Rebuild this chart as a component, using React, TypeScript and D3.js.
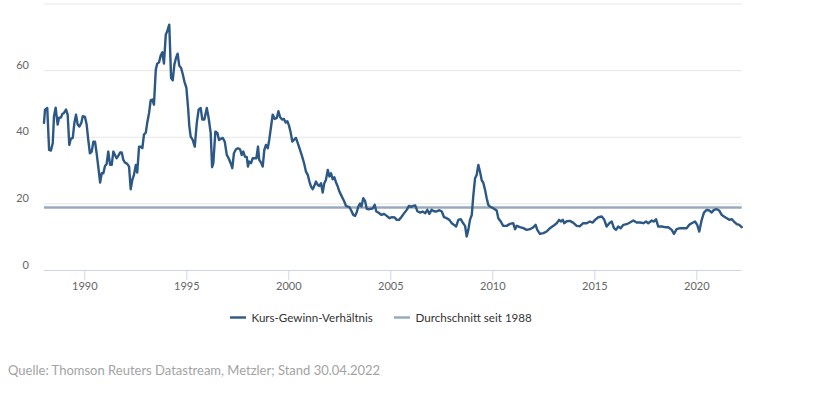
import React, { useEffect } from 'react';
import * as d3 from 'd3';

const dates = [
  1988.00, 1988.05, 1988.16, 1988.25, 1988.34, 1988.43, 1988.49, 1988.57, 1988.67, 1988.74, 1988.83, 1988.90, 1988.98,
  1989.08, 1989.16, 1989.24, 1989.31, 1989.41, 1989.49, 1989.57, 1989.65, 1989.73, 1989.83, 1989.90,
  1990.01, 1990.09, 1990.17, 1990.25, 1990.34, 1990.42, 1990.50, 1990.58, 1990.66, 1990.75, 1990.83, 1990.91, 1990.99,
  1991.07, 1991.15, 1991.24, 1991.32, 1991.40, 1991.48, 1991.56, 1991.64, 1991.73, 1991.81, 1991.89, 1991.97,
  1992.08, 1992.17, 1992.25, 1992.33, 1992.41, 1992.50, 1992.57, 1992.66, 1992.74, 1992.82, 1992.90, 1992.99,
  1993.06, 1993.15, 1993.23, 1993.31, 1993.39, 1993.48, 1993.55, 1993.64, 1993.72, 1993.80, 1993.88, 1993.97,
  1994.04, 1994.14, 1994.23, 1994.31, 1994.39, 1994.47, 1994.55, 1994.63, 1994.72, 1994.80, 1994.88, 1994.98,
  1995.07, 1995.12, 1995.19, 1995.29, 1995.39, 1995.49, 1995.58, 1995.68, 1995.76, 1995.86, 1995.98,
  1996.07, 1996.17, 1996.24, 1996.30, 1996.40, 1996.50, 1996.58, 1996.66, 1996.76, 1996.86, 1996.96,
  1997.05, 1997.15, 1997.23, 1997.31, 1997.41, 1997.51, 1997.61, 1997.69, 1997.77, 1997.85, 1997.94,
  1998.00, 1998.06, 1998.15, 1998.23, 1998.33, 1998.41, 1998.49, 1998.55, 1998.64, 1998.72, 1998.80, 1998.88, 1998.97,
  1999.04, 1999.13, 1999.21, 1999.31, 1999.41, 1999.49, 1999.57, 1999.67, 1999.76, 1999.85, 1999.93,
  2000.01, 2000.09, 2000.17, 2000.25, 2000.35, 2000.47, 2000.55, 2000.63, 2000.75, 2000.84, 2000.93,
  2001.01, 2001.09, 2001.17, 2001.25, 2001.33, 2001.42, 2001.50, 2001.58, 2001.66, 2001.74, 2001.82, 2001.91, 2001.99,
  2002.07, 2002.15, 2002.23, 2002.31, 2002.40, 2002.48, 2002.56, 2002.64, 2002.72, 2002.80, 2002.89, 2002.97,
  2003.06, 2003.16, 2003.25, 2003.33, 2003.41, 2003.49, 2003.56, 2003.65, 2003.74, 2003.82, 2003.92,
  2004.01, 2004.11, 2004.21, 2004.29, 2004.39, 2004.47, 2004.55, 2004.67, 2004.80, 2004.93,
  2005.06, 2005.19, 2005.29, 2005.40, 2005.51, 2005.63, 2005.78, 2005.89,
  2006.00, 2006.10, 2006.20, 2006.30, 2006.43, 2006.56, 2006.69, 2006.79, 2006.89,
  2007.00, 2007.12, 2007.24, 2007.38, 2007.50, 2007.61, 2007.74, 2007.87, 2007.99,
  2008.10, 2008.20, 2008.31, 2008.43, 2008.52, 2008.64, 2008.72, 2008.80, 2008.88, 2008.97,
  2009.04, 2009.13, 2009.21, 2009.29, 2009.37, 2009.46, 2009.53, 2009.62, 2009.70, 2009.78, 2009.86,
  2010.02, 2010.19, 2010.27, 2010.39, 2010.51, 2010.68, 2010.84,
  2011.00, 2011.09, 2011.17, 2011.33, 2011.50, 2011.66, 2011.82, 2011.99,
  2012.10, 2012.18, 2012.31, 2012.48, 2012.64, 2012.80, 2012.97,
  2013.13, 2013.25, 2013.33, 2013.43, 2013.50, 2013.62, 2013.78, 2013.95,
  2014.11, 2014.27, 2014.43, 2014.60, 2014.76, 2014.90,
  2015.01, 2015.17, 2015.34, 2015.45, 2015.58, 2015.71, 2015.83, 2015.94,
  2016.04, 2016.15, 2016.27, 2016.40, 2016.56, 2016.72, 2016.89,
  2017.05, 2017.22, 2017.38, 2017.51, 2017.62, 2017.79, 2017.90,
  2018.00, 2018.11, 2018.28, 2018.44, 2018.60, 2018.77, 2018.88,
  2019.01, 2019.18, 2019.34, 2019.50, 2019.63, 2019.75, 2019.91,
  2020.02, 2020.12, 2020.24, 2020.35, 2020.48, 2020.61, 2020.73, 2020.84, 2020.97,
  2021.10, 2021.22, 2021.33, 2021.47, 2021.59, 2021.71, 2021.82, 2021.96,
  2022.08, 2022.20,
];

const kgv = [
  44.3, 48.3, 48.8, 36.2, 36.0, 38.3, 46.3, 48.9, 43.8, 45.9, 45.9, 47.0, 47.3,
  48.3, 46.8, 37.7, 39.5, 39.8, 44.3, 46.8, 43.8, 43.2, 44.3, 46.3,
  46.1, 43.8, 39.2, 35.2, 35.7, 38.7, 38.7, 35.2, 31.2, 26.4, 29.2, 29.2, 31.4,
  32.0, 35.7, 31.7, 31.7, 35.7, 34.7, 33.7, 34.4, 35.4, 35.4, 33.2, 32.4,
  32.0, 31.2, 24.4, 27.2, 28.7, 31.7, 29.4, 37.2, 37.2, 36.7, 40.8, 41.4,
  44.3, 47.3, 51.1, 51.3, 49.8, 60.3, 62.1, 62.5, 64.5, 65.5, 62.1, 70.8,
  71.8, 73.8, 57.8, 57.1, 61.8, 63.8, 65.1, 61.5, 60.8, 59.0, 56.8, 54.8,
  48.3, 43.5, 40.2, 39.2, 37.2, 44.3, 48.3, 48.8, 45.3, 45.3, 48.8,
  45.8, 41.3, 31.0, 32.2, 41.7, 41.3, 39.2, 39.5, 39.8, 38.7, 34.7,
  33.7, 32.2, 30.7, 35.2, 36.4, 36.7, 36.4, 34.7, 35.7, 34.2, 34.0,
  31.2, 32.7, 32.2, 33.7, 33.7, 33.7, 37.2, 33.2, 32.4, 31.2, 36.2, 37.7, 36.7,
  39.2, 43.2, 46.8, 45.5, 45.8, 47.8, 46.1, 45.3, 45.5, 44.4, 44.8,
  43.5, 41.5, 38.7, 39.2, 39.8, 37.7, 36.2, 34.7, 32.2, 29.7, 28.7,
  26.7, 25.2, 24.4, 25.4, 26.7, 25.7, 25.4, 26.2, 23.4, 26.2, 27.2, 30.2, 28.2,
  29.2, 27.4, 28.0, 26.5, 25.2, 23.7, 22.7, 21.7, 20.7, 19.4, 19.2, 19.0,
  18.0, 16.7, 16.4, 17.5, 19.2, 20.1, 19.2, 21.7, 20.8, 18.5, 18.4,
  18.5, 18.6, 19.7, 17.7, 17.4, 17.0, 16.7, 17.0, 16.4, 15.7,
  16.0, 15.9, 15.2, 15.2, 16.0, 17.0, 18.2, 19.4,
  19.1, 19.4, 19.5, 17.8, 17.4, 17.7, 17.2, 18.2, 17.0,
  18.2, 17.8, 17.7, 18.1, 17.7, 16.0, 15.7, 15.2, 14.2,
  13.7, 13.2, 15.2, 15.4, 14.4, 13.4, 10.2, 12.2, 15.2, 16.7,
  22.2, 27.7, 28.7, 31.7, 29.7, 27.0, 26.4, 24.2, 21.7, 19.7, 19.2,
  18.7, 18.0, 15.7, 14.7, 13.4, 13.4, 14.0,
  14.2, 12.4, 13.4, 13.0, 12.7, 12.2, 12.4, 13.0,
  13.7, 12.2, 11.0, 11.2, 11.7, 12.7, 13.4,
  14.2, 15.2, 14.7, 15.2, 14.2, 14.8, 14.9, 14.3,
  13.4, 13.3, 14.2, 14.2, 14.7, 14.4,
  15.2, 16.0, 16.2, 15.4, 13.2, 14.2, 14.7, 12.7,
  12.2, 13.2, 12.7, 13.7, 13.9, 14.4, 15.0,
  14.4, 14.4, 14.2, 14.7, 14.2, 15.0, 14.7,
  15.4, 13.2, 13.2, 13.0, 13.0, 12.2, 11.0,
  12.4, 12.7, 12.7, 12.7, 13.7, 14.2, 14.7,
  13.7, 11.7, 15.2, 17.4, 18.2, 18.0, 17.4, 18.2, 18.4,
  18.0, 16.7, 16.2, 15.7, 15.2, 15.4, 14.7, 13.9,
  13.7, 13.0,
];

const durchschnitt = 18.9;

const yTicks = [0, 20, 40, 60, 80];
const yLabels = [0, 20, 40, 60]; // 80 liegt am oberen Rand und ist nicht beschriftet
const xTicks = [1990, 1995, 2000, 2005, 2010, 2015, 2020];
const seriesNames = ['Kurs-Gewinn-Verhältnis', 'Durchschnitt seit 1988'];
const quelle = 'Quelle: Thomson Reuters Datastream, Metzler; Stand 30.04.2022';

const W = 813;
const H = 398;
const plot = { left: 44, right: 741.7, top: 4, bottom: 270.5 };
const lineColor = '#2b5884';
const avgColor = '#98aabf';
const font = 'Lato, "Source Sans Pro", "Open Sans", sans-serif';

export default function App() {
  useEffect(() => {
    document.body.style.margin = '0';
  }, []);

  const x = d3.scaleLinear()
    .domain([dates[0], dates[dates.length - 1]])
    .range([plot.left, plot.right]);
  const y = d3.scaleLinear().domain([0, 80]).range([plot.bottom, plot.top]);

  const points = dates.map((d, i) => [d, kgv[i]] as [number, number]);
  const line = d3.line<[number, number]>()
    .x(d => x(d[0]))
    .y(d => y(d[1]));

  return (
    <svg width={W} height={H} style={{ display: 'block', fontFamily: font }}>
      <rect width={W} height={H} fill="#ffffff" />

      {/* Gitterlinien */}
      {yTicks.filter(t => t > 0).map(t => (
        <line key={t} x1={plot.left} x2={plot.right} y1={y(t)} y2={y(t)} stroke="#e6e6e6" strokeWidth={1} />
      ))}
      {yLabels.map(t => (
        <text key={'l' + t} x={29} y={y(t) - 2} textAnchor="end" fontSize={11} fill="#666666">{t}</text>
      ))}

      {/* x-Achse */}
      <line x1={plot.left} x2={plot.right} y1={plot.bottom} y2={plot.bottom} stroke="#ccd6eb" strokeWidth={1} />
      {xTicks.map(t => (
        <g key={t} transform={`translate(${x(t)},0)`}>
          <line y1={plot.bottom} y2={plot.bottom + 9.5} stroke="#ccd6eb" strokeWidth={1} />
          <text y={289.5} textAnchor="middle" fontSize={11} fill="#666666">{t}</text>
        </g>
      ))}

      {/* Durchschnitt */}
      <line x1={plot.left} x2={plot.right} y1={y(durchschnitt)} y2={y(durchschnitt)} stroke={avgColor} strokeWidth={2.5} />

      {/* KGV */}
      <path d={line(points) ?? ''} fill="none" stroke={lineColor} strokeWidth={2.4} strokeLinejoin="round" strokeLinecap="round" />

      {/* Legende */}
      <g fontSize={11.6} fill="#333333">
        <line x1={230} x2={246} y1={317.5} y2={317.5} stroke={lineColor} strokeWidth={2.4} />
        <text x={251.5} y={321.5}>{seriesNames[0]}</text>
        <line x1={394} x2={410} y1={317.5} y2={317.5} stroke={avgColor} strokeWidth={2.5} />
        <text x={415.5} y={321.5}>{seriesNames[1]}</text>
      </g>

      <text x={8} y={375} fontSize={13} fill="#a3a3a3">{quelle}</text>
    </svg>
  );
}
